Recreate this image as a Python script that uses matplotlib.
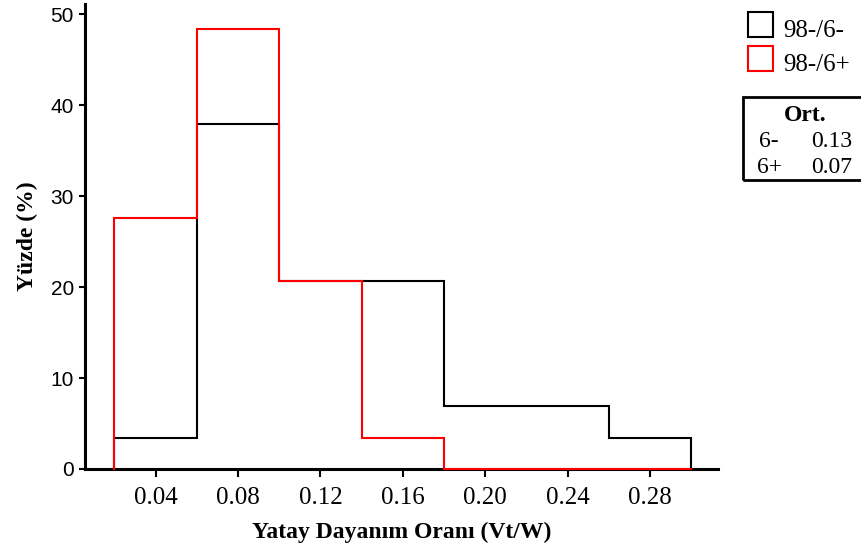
import matplotlib
matplotlib.use('Agg')
import matplotlib.pyplot as plt
from matplotlib.patches import Rectangle

# bin edges of horizontal strength ratio (Vt/W)
bin_edges = [0.02, 0.06, 0.10, 0.14, 0.18, 0.22, 0.26, 0.30]

# percentage of specimens per bin
pct_minus = [3.45, 37.9, 20.7, 20.7, 6.9, 6.9, 3.45]   # 98-/6-
pct_plus = [27.6, 48.3, 20.7, 3.45, 0.0, 0.0, 0.0]     # 98-/6+

series_names = ['98-/6-', '98-/6+']
series_colors = ['black', 'red']

mean_labels = ['6-', '6+']
mean_values = ['0.13', '0.07']

x_ticks = [0.04, 0.08, 0.12, 0.16, 0.20, 0.24, 0.28]
y_ticks = [0, 10, 20, 30, 40, 50]

serif = 'Liberation Serif'
sans = 'Liberation Sans'


def step_outline(edges, heights):
    # closed outline of a histogram, starting and ending on the baseline
    xs = [edges[0]]
    ys = [0]
    for i, h in enumerate(heights):
        xs += [edges[i], edges[i + 1]]
        ys += [h, h]
    xs.append(edges[-1])
    ys.append(0)
    return xs, ys


W, H = 862, 550
fig = plt.figure(figsize=(W / 100, H / 100), dpi=100)
ax = fig.add_axes([85 / W, 81 / H, 633 / W, 465 / H])

for vals, col in zip([pct_minus, pct_plus], series_colors):
    xs, ys = step_outline(bin_edges, vals)
    ax.plot(xs, ys, color=col, lw=1.5, solid_joinstyle='miter', clip_on=False, zorder=3)

ax.set_xlim(0.0057, 0.313)
ax.set_ylim(0, 51.1)
ax.spines['top'].set_visible(False)
ax.spines['right'].set_visible(False)
ax.spines['left'].set_linewidth(2.2)
ax.spines['bottom'].set_linewidth(2.2)

ax.set_xticks(x_ticks)
ax.set_xticklabels(['%.2f' % t for t in x_ticks], fontfamily=serif, fontsize=18)
ax.set_yticks(y_ticks)
ax.set_yticklabels([str(t) for t in y_ticks], fontfamily=sans, fontsize=15)
ax.tick_params(axis='both', direction='out', width=1.5, color='black')
ax.tick_params(axis='x', length=6, pad=7)
ax.tick_params(axis='y', length=4, pad=4)

ax.set_xlabel('Yatay Dayanım Oranı (Vt/W)', fontfamily=serif, fontweight='bold',
              fontsize=17, labelpad=9)
ax.set_ylabel('Yüzde (%)', fontfamily=serif, fontweight='bold', fontsize=17, labelpad=9)


def px(x, y):
    # pixel position (from the top left) to figure fraction
    return x / W, 1 - y / H


# legend squares in the top right corner
for i, (name, col) in enumerate(zip(series_names, series_colors)):
    top = 12 + 34 * i
    fig.patches.append(Rectangle(px(748, top + 25), 25 / W, 25 / H, fill=False,
                                 edgecolor=col, lw=1.5, transform=fig.transFigure))
    fig.text(*px(783, top + 25), name, fontfamily=serif, fontsize=18,
             va='baseline', ha='left')

# box with mean values
fig.patches.append(Rectangle(px(743, 180), 125 / W, 83 / H, fill=False,
                             edgecolor='black', lw=2, transform=fig.transFigure, clip_on=False))
fig.text(*px(805, 121), 'Ort.', fontfamily=serif, fontweight='bold',
         fontsize=17, ha='center', va='baseline')
for i, (lab, val) in enumerate(zip(mean_labels, mean_values)):
    yy = 147 + 26 * i
    fig.text(*px(769, yy), lab, fontfamily=serif, fontsize=17, ha='center', va='baseline')
    fig.text(*px(832, yy), val, fontfamily=serif, fontsize=17, ha='center', va='baseline')

fig.savefig('out.png', dpi=100)
